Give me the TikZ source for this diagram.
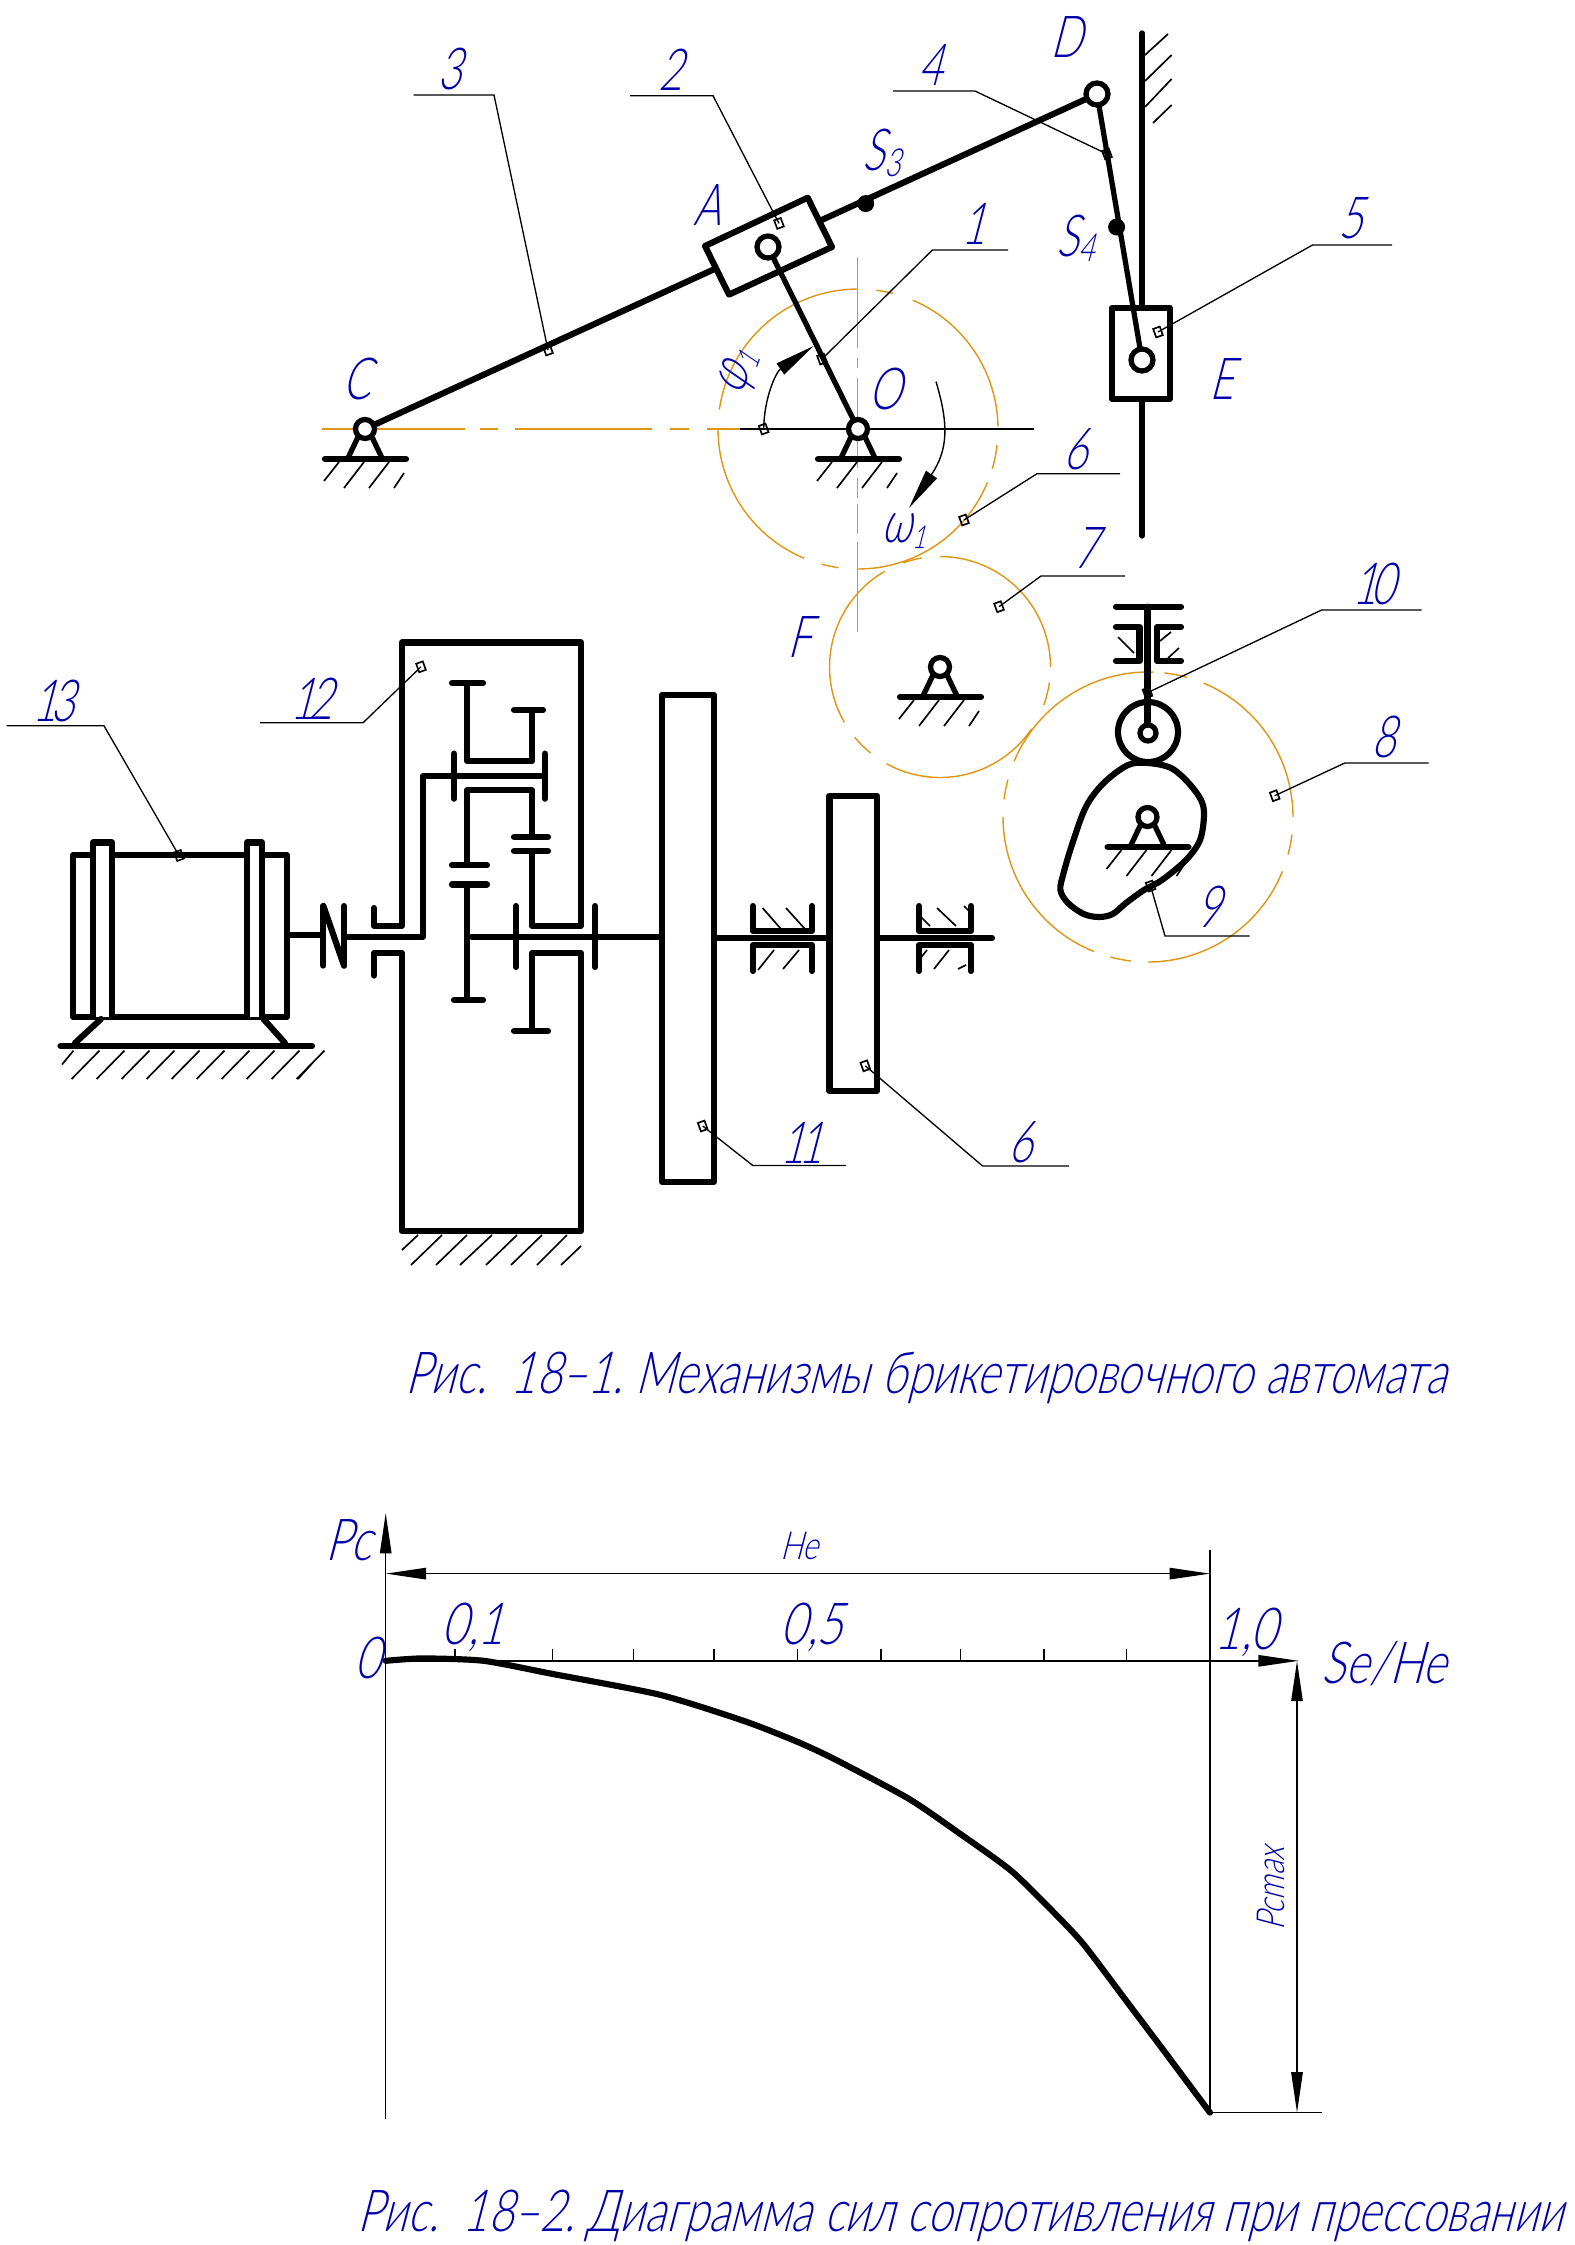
\documentclass[tikz,border=0pt]{standalone}
\usepackage{fontspec}
\usetikzlibrary{arrows.meta}
\newfontfamily\gost[FakeSlant=0.26,FakeStretch=0.72]{Lato Light}
\newfontfamily\gostwide[FakeSlant=0.26,FakeStretch=0.78]{Lato Light}
\newfontfamily\gostcap[FakeSlant=0.26,FakeStretch=0.76]{Lato Light}
\definecolor{gblue}{RGB}{0,0,170}
\definecolor{gorange}{RGB}{222,150,20}
\tikzset{
  x=0.02cm,y=-0.02cm,
  heavy/.style={line width=3.5pt,line cap=round,line join=round,black},
  mid/.style={line width=3pt,line cap=round,line join=round,black},
  thin1/.style={line width=0.75pt,black},
  hatch/.style={line width=0.95pt,black},
  axisorange/.style={line width=0.95pt,gorange},
  gearorange/.style={line width=0.8pt,gorange},
  lab/.style={inner sep=0pt,xshift=-2pt,text=gblue,font=\gost\fontsize{33}{36}\selectfont},
  chartlab/.style={inner sep=0pt,text=gblue,font=\gostwide\fontsize{33}{36}\selectfont},
  smalllab/.style={inner sep=0pt,text=gblue,font=\gostwide\fontsize{22}{24}\selectfont},
  captext/.style={inner sep=0pt,text=gblue,font=\gostcap\fontsize{33}{36}\selectfont},
  dimarrow/.style={line width=0.85pt,black,{Triangle[length=23pt,width=6.5pt]}-{Triangle[length=23pt,width=6.5pt]}},
  onearrow/.style={line width=0.85pt,black,-{Triangle[length=23pt,width=6.5pt]}},
  markbox/.style={line width=0.95pt,black},
}
\newcommand{\mk}[2]{\draw[markbox,rotate around={20:(#1,#2)}] (#1-3.5,#2-4.5) rectangle (#1+3.5,#2+4.5);}
\newcommand{\pivot}[2]{%
  \draw[mid] (#1-7,#2+8) -- (#1-17,#2+29);
  \draw[mid] (#1+7,#2+8) -- (#1+17,#2+29);
  \draw[heavy] (#1-40,#2+30) -- (#1+41,#2+30);
  \draw[mid,fill=white] (#1,#2) circle (9.5);
  \foreach \a/\b/\c/\d in {-26/33/-41/52,-1/33/-21/59,24/33/4/59,39/44/29/59}
    \draw[hatch] (#1+\a,#2+\b) -- (#1+\c,#2+\d);
}
\newcommand{\gear}[4]{\foreach \p/\q in {#4}
  \draw[gearorange] plot[domain=\p:\q,samples=40] ({#1+#3*cos(\x)},{#2-#3*sin(\x)});}
\newcommand{\tight}{\kern-3.5pt }
\begin{document}
\begin{tikzpicture}
\useasboundingbox (0,0) rectangle (1575,2245);
\fill[white] (0,0) rectangle (1575,2245);

% ---- gears and centre lines
\gear{858}{429}{140}{90/172,75.5/82.5,1/67,-16.5/-6.5,-90/-22.4,-105/-98,-180/-112.6}
\gear{940}{667}{110.5}{0/90,-20/-8,-119/-34,-140.5/-129,-240/-150,99.5/109.4}
\gear{1148}{817}{145}{0/67.4,-15/-7,-90/-22,-105/-96.7,-180/-112,165/173,88/157.5,74.5/83.5}
\foreach \a/\b in {322/465,480/498,515/652,670/689,707/740}
  \draw[axisorange] (\a,429) -- (\b,429);
\foreach \a/\b in {257/348,358/368,378/468,478/498,504/534,542/632}
  \draw[axisorange] (857.6,\a) -- (857.6,\b);
\draw[thin1] (740,429) -- (1034,429);

% ---- lever mechanism
\coordinate (C) at (365,429);
\coordinate (O) at (858,429);
\coordinate (A) at (768,247);
\coordinate (D) at (1097,94);
\coordinate (E) at (1142,360);
\draw[heavy] (C) -- (D);
\draw[heavy,fill=white] (807.7,197.7) -- (832,247) -- (729,294.6) -- (705,246) -- cycle;
\draw[mid] (1142,33) -- (1142,536);
\foreach \a/\b/\c/\d in {1145/55/1168/34,1145/81/1171.6/55,1145/107/1171.6/79,1153/123/1171.6/105}
  \draw[hatch] (\a,\b) -- (\c,\d);
\draw[heavy,fill=white] (1112,308) rectangle (1170,398.6);
\draw[mid] (A) -- (O);
\draw[mid] (D) -- (E);
\draw[mid,fill=white] (A) circle (11);
\draw[mid,fill=white] (D) circle (11);
\draw[mid,fill=white] (E) circle (11);
\fill (865.7,203.6) circle (8.5);
\fill (1116.6,227) circle (8.5);
\pivot{365}{429}
\pivot{858}{429}
\pivot{940}{667}

% ---- angle and speed arcs
\coordinate (phistart) at (763.7,429);
\coordinate (phitip) at (813.6,346);
\draw[line width=0.8pt,black,-{Triangle[length=23pt,width=7.5pt]}] (phistart) .. controls (764,398) and (776,372) .. (phitip);
\coordinate (omstart) at (936,381.6);
\coordinate (omtip) at (909,508);
\draw[line width=0.8pt,black,-{Triangle[length=23pt,width=7.5pt]}] (omstart) .. controls (949,425) and (948,450) .. (omtip);

% ---- cam and follower
\draw[heavy] plot[smooth cycle,tension=0.55] coordinates {(1128,765) (1148,763) (1171,768) (1188.6,783) (1201,800) (1204,815) (1200,840) (1186,860) (1162,880) (1144,890) (1126,903) (1112.7,914) (1099,917) (1083.7,914) (1068,903) (1060.4,890) (1063.6,873) (1072.5,843) (1086,806.7) (1103.7,783)};
\draw[heavy] (1148,732) circle (30);
\draw[heavy] (1147.5,606.7) -- (1147.5,733);
\draw[heavy] (1116,606.7) -- (1181,606.7);
\draw[heavy] (1116,627) -- (1139.5,627) -- (1139.5,661) -- (1116,661);
\draw[heavy] (1181,627) -- (1157,627) -- (1157,661) -- (1181,661);
\foreach \a/\b/\c/\d in {1118/637/1134/653,1171/632/1160/641,1179/648/1168/658}
  \draw[hatch] (\a,\b) -- (\c,\d);
\draw[mid,fill=white] (1148,733) circle (8);
\pivot{1147.5}{817}

% ---- motor
\draw[heavy] (73,855) rectangle (287,1017);
\draw[heavy,fill=white] (93,1017) -- (93,842.5) -- (112,842.5) -- (112,1017);
\draw[heavy,fill=white] (247,1017) -- (247,842.5) -- (262,842.5) -- (262,1017);
\draw[heavy] (60.5,1046) -- (312,1046);
\draw[heavy] (101,1019) -- (75,1043);
\draw[heavy] (263.5,1019) -- (285,1043);
\draw[hatch] (73.5,1050.6) -- (62,1064.5);
\foreach \i in {0,...,9}
  \draw[hatch] ({99.5+25*\i},1050.6) -- ({71.6+25*\i},1079);
\draw[hatch] (311,1064.5) -- (298,1079);

% ---- clutch and input shaft
\draw[heavy] (288,935) -- (321,935);
\draw[heavy] (323.4,906) -- (323.4,965.6);
\draw[heavy] (344,906) -- (344,965.6);
\draw[heavy] (323.4,906) -- (344,965.6);
\draw[heavy] (344,936.6) -- (423,936.6) -- (423,776) -- (545,776);
\draw[heavy] (454,753.6) -- (454,798.7);
\draw[heavy] (545,753.6) -- (545,798.7);

% ---- housing
\draw[heavy] (374,908) -- (374,925.7) -- (402,925.7) -- (402,642.5) -- (581,642.5) -- (581,925.7) -- (532,925.7) -- (532,851);
\draw[heavy] (374,975.6) -- (374,953) -- (402,953) -- (402,1231.4) -- (581,1231.4) -- (581,953) -- (532,953) -- (532,1031);
\foreach \a/\b in {442/411,467/436,492/460,517/486,542/511,567/537}
  \draw[hatch] (\a,1235) -- (\b,1265);
\draw[hatch] (418,1235) -- (402,1250);
\draw[hatch] (581,1246) -- (561,1265);

% ---- gears in the box
\draw[heavy] (467,683) -- (467,761) -- (532,761) -- (532,710);
\draw[heavy] (452,683) -- (483,683);
\draw[heavy] (514,710) -- (543,710);
\draw[heavy] (467,865) -- (467,790.4) -- (532,790.4) -- (532,837);
\draw[heavy] (452,865) -- (487,865);
\draw[heavy] (514,837) -- (548,837);
\draw[heavy] (514,851) -- (548,851);
\draw[heavy] (452,884.5) -- (487,884.5);
\draw[heavy] (467,884.5) -- (467,1000);
\draw[heavy] (454,1000) -- (483,1000);
\draw[heavy] (514,1031) -- (548,1031);
\draw[heavy] (472,936.6) -- (662,936.6);
\draw[heavy] (516,906) -- (516,967);
\draw[heavy] (595,906) -- (595,967);

% ---- wheels, output shaft, bearings
\draw[heavy] (662,694.6) rectangle (714,1181.6);
\draw[heavy] (829.5,795.6) rectangle (877,1091);
\draw[heavy] (714,938) -- (829.5,938);
\draw[heavy] (877,938) -- (992,938);
\draw[heavy] (753,906) -- (753,931) -- (812,931) -- (812,906);
\draw[heavy] (753,971) -- (753,945) -- (812,945) -- (812,971);
\draw[heavy] (919,906) -- (919,931) -- (971,931) -- (971,906);
\draw[heavy] (919,971) -- (919,945) -- (971,945) -- (971,971);
\foreach \a/\b/\c/\d in {762.6/908/781/929,786/908/805/929,774/950/758/970,799/950/783/969,921/917/930/926,937/908/956/926,964/906/969/911,949/950/934/969,966/965/958/969,927/950/919/960}
  \draw[hatch] (\a,\b) -- (\c,\d);

% ---- leaders
\foreach \a/\b/\c/\d/\e in {
  413.7/95/494/548/350,
  630/95.7/713/779/223.4,
  893/91/975/1107/154,
  1008/250/932.4/822/359,
  1392/245/1312.5/1158/332,
  1120/473.7/1037/964/520,
  1125/576/1041/999/606.7,
  1421.6/610/1321.6/1147.5/692.7,
  1428.7/763/1344.8/1274.7/795.7,
  1249.7/936/1165/1150.6/886,
  6.5/725.8/104/179/855.5,
  260/722.8/363/421/666.8,
  845.8/1165.5/752.8/702.7/1126,
  1069/1166/982.6/865.3/1065.8}
{
  \draw[thin1] (\a,\b) -- (\c,\b) -- (\d,\e);
  \mk{\d}{\e}
}
\mk{763.7}{429}

% ---- labels
\node[lab] (n3) at (453,69) {3};
\node[lab] (n2) at (674,70) {2};
\node[lab] (n4) at (934,65) {4};
\node[lab] (n1) at (977,224) {1};
\node[lab] (n5) at (1354,218) {5};
\node[lab] (n6a) at (1079,449) {6};
\node[lab] (n7) at (1089,548) {7};
\node[lab] (n10) at (1377,584) {1\tight 0};
\node[lab] (n8) at (1387,737) {8};
\node[lab] (n9) at (1212,907) {9};
\node[lab] (n13) at (57,701) {1\tight 3};
\node[lab] (n12) at (315,698.5) {1\tight 2};
\node[lab] (n11) at (805,1143) {1\tight 1};
\node[lab] (n6b) at (1024,1142) {6};
\node[lab] (lC) at (360,379) {C};
\node[lab] (lA) at (711,205) {A};
\node[lab] (lD) at (1070,37) {D};
\node[lab] (lE) at (1225,379) {E};
\node[lab] (lO) at (889,389) {O};
\node[lab] (lF) at (803,637) {F};
\node[lab] (lS3) at (885,153) {S\raisebox{-3pt}{\fontsize{22}{24}\selectfont 3}};
\node[lab] (lS4) at (1079,238) {S\raisebox{-3pt}{\fontsize{22}{24}\selectfont 4}};
\node[lab,rotate=70] (lphi) at (743,373) {φ\raisebox{-3pt}{\fontsize{18}{20}\selectfont 1}};
\node[lab] (lom) at (907,531) {ω\raisebox{-3pt}{\fontsize{18}{20}\selectfont 1}};

% ---- caption 1
\node[captext] (cap1) at (926,1378) {Рис.\ \ 18–1.\ Механизмы брикетировочного автомата};

% ---- diagram
\coordinate (ybot) at (385.7,2119);
\coordinate (ytop) at (385.7,1513);
\coordinate (xleft) at (385.7,1660.8);
\coordinate (xright) at (1298.7,1660.8);
\coordinate (hl) at (385.7,1573.6);
\coordinate (hr) at (1210,1573.6);
\coordinate (pe) at (1210,2112.6);
\coordinate (pt) at (1210,1550);
\coordinate (pr) at (1321.6,2112.6);
\coordinate (dt) at (1297,1660.8);
\coordinate (db) at (1297,2112.6);
\draw[onearrow] (ybot) -- (ytop);
\draw[onearrow] (xleft) -- (xright);
\draw[dimarrow] (hl) -- (hr);
\draw[line width=0.75pt] (pt) -- (pe);
\draw[line width=0.75pt] (pe) -- (pr);
\draw[dimarrow] (dt) -- (db);
\foreach \x in {455,552.5,633.7,714,797.4,881,960.4,1044,1126.5}
  \draw[line width=0.75pt] (\x,1648.7) -- (\x,1661);
\draw[heavy] plot[smooth,tension=0.4] coordinates {(385.7,1660.8) (422.4,1658.4) (483.7,1660.8) (552.5,1673.9) (659.7,1694.7) (743.9,1720.9) (797.4,1741.8) (835.7,1759.7) (908.4,1798.5) (958.1,1832.4) (1011.7,1871.2) (1057.6,1916.3) (1084.4,1945.3) (1126.5,2001.1) (1164.8,2052) (1210,2112.6)};
\node[chartlab] (lPc) at (349,1540) {Pc};
\node[chartlab] (l0) at (368,1658) {0};
\node[chartlab] (l01) at (473,1627) {0,1};
\node[chartlab] (l05) at (812,1627) {0,5};
\node[chartlab] (l10) at (1246,1632) {1,0};
\node[chartlab] (lSe) at (1384,1664) {Se/He};
\node[smalllab] (lHe) at (799,1546) {He};
\node[smalllab,rotate=90] (lPm) at (1271,1889) {Pcmax};
\node[captext] (cap2) at (960,2216) {Рис.\ \ 18–2.\ Диаграмма сил сопротивления при прессовании};
\end{tikzpicture}
\end{document}
